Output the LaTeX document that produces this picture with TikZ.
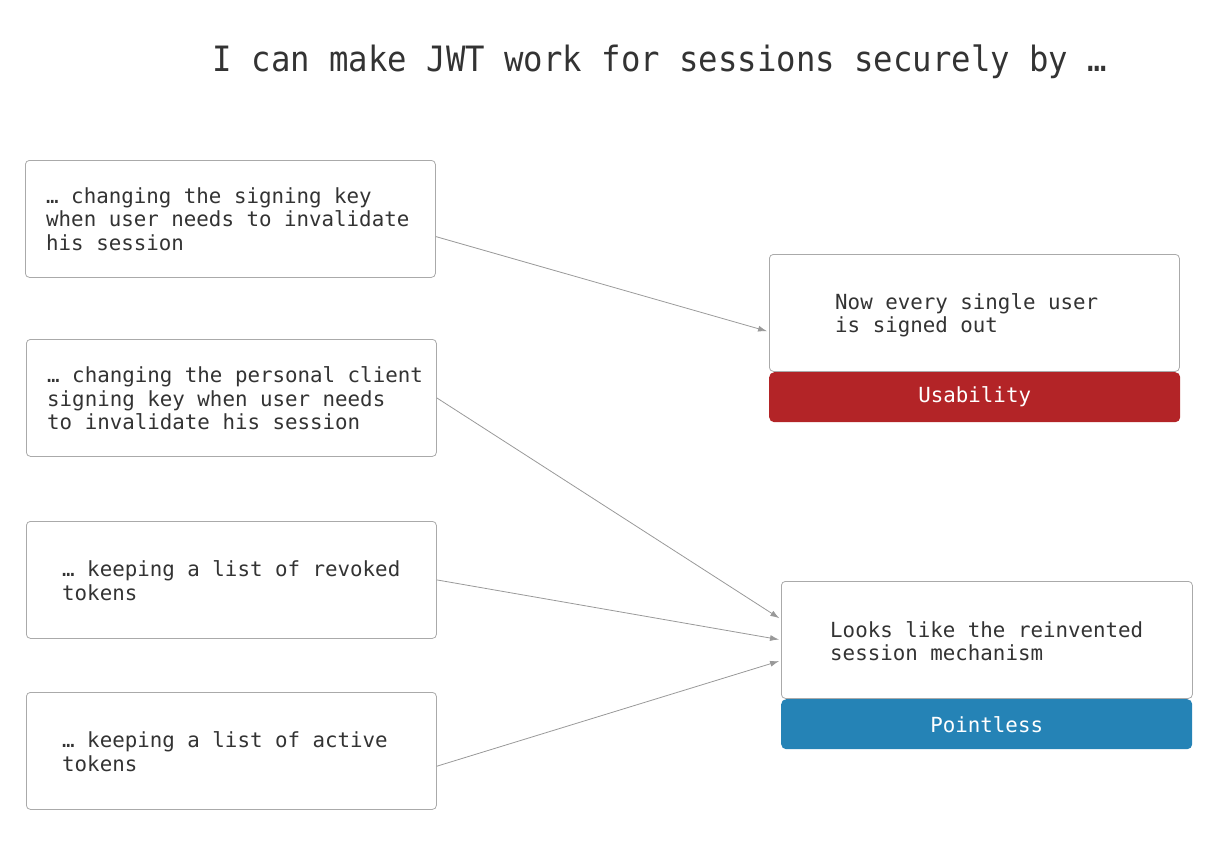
\documentclass[tikz,border=0pt]{standalone}
\usepackage{fontspec}
\setmonofont{DejaVu Sans Mono}
\usetikzlibrary{arrows.meta,calc}
\definecolor{txt}{HTML}{333333}
\definecolor{boxline}{HTML}{AAAAAA}
\definecolor{arrowc}{HTML}{999999}
\definecolor{redlab}{HTML}{B32427}
\definecolor{bluelab}{HTML}{2583B6}
\tikzset{
  box/.style={draw=boxline, line width=0.8pt, rounded corners=4pt, fill=white,
    minimum width=410pt, minimum height=117pt, anchor=north west, inner sep=0pt},
  body/.style={font=\ttfamily\fontsize{20.8pt}{23.5pt}\selectfont, text=txt,
    align=left, anchor=west, inner sep=0pt},
  lab/.style={rounded corners=5pt, minimum width=411pt, minimum height=50pt,
    anchor=north west, inner sep=0pt, text=white,
    font=\ttfamily\fontsize{20.8pt}{23.5pt}\selectfont},
  conn/.style={draw=arrowc, line width=0.8pt, -{Latex[length=9pt,width=6pt]}, shorten >=2pt}
}
\begin{document}
\begin{tikzpicture}[x=1pt,y=-1pt]
\useasboundingbox (0,0) rectangle (1210,862);
\node[font=\ttfamily\fontsize{32.3pt}{36pt}\selectfont, text=txt, inner sep=0pt, yscale=1.08] (title) at (660,62) {I can make JWT work for sessions securely by …};

\node[box] (a1) at (25,160) {};
\node[body] (t1) at (46,219) {… changing the signing key\\when user needs to invalidate\\his session};
\node[box] (a2) at (26,339) {};
\node[body] (t2) at (47,398.5) {… changing the personal client\\signing key when user needs\\to invalidate his session};
\node[box] (a3) at (26,521) {};
\node[body] (t3) at (62,580.5) {… keeping a list of revoked\\tokens};
\node[box] (a4) at (26,692) {};
\node[body] (t4) at (62,751.5) {… keeping a list of active\\tokens};

\node[box] (b1) at (769,254) {};
\node[body] (u1) at (835,315.5) {Now every single user\\is signed out};
\node[lab, fill=redlab] (l1) at (769,372) {\raisebox{-2pt}{Usability}};

\node[box, minimum width=411pt] (b2) at (781,581) {};
\node[body] (u2) at (830,641) {Looks like the reinvented\\session mechanism};
\node[lab, fill=bluelab] (l2) at (781,699) {Pointless};

\coordinate (s1) at ($(a1.north east)!0.65!(a1.south east)$);
\coordinate (s4) at ($(a4.north east)!0.63!(a4.south east)$);
\coordinate (e1) at ($(b1.north west)!0.66!(b1.south west)$);
\coordinate (e2) at ($(b2.north west)!0.325!(b2.south west)$);
\coordinate (e3) at ($(b2.north west)!0.5!(b2.south west)$);
\coordinate (e4) at ($(b2.north west)!0.675!(b2.south west)$);
\draw[conn] (s1) -- (e1);
\draw[conn] (a2.east) -- (e2);
\draw[conn] (a3.east) -- (e3);
\draw[conn] (s4) -- (e4);
\end{tikzpicture}
\end{document}
